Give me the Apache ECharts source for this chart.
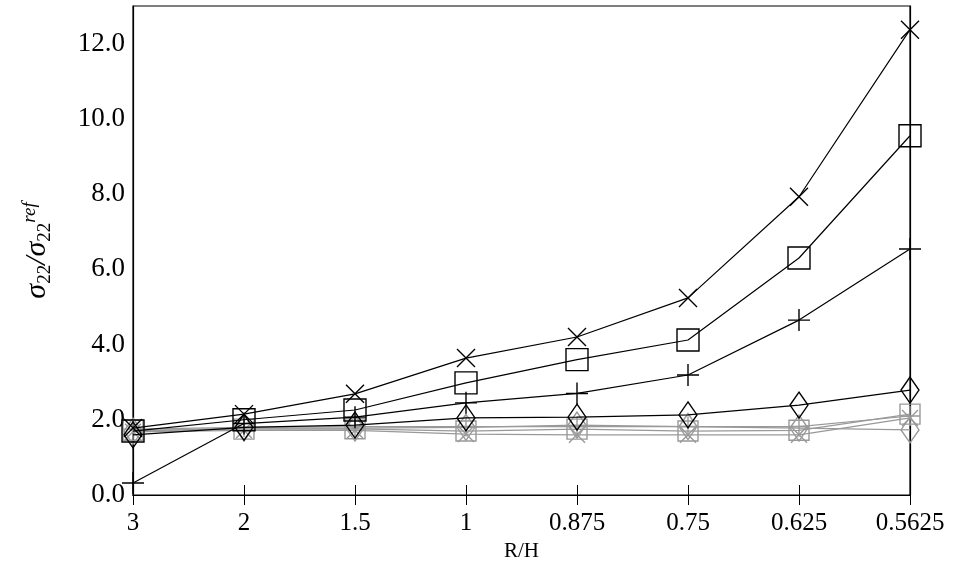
<!DOCTYPE html>
<html>
<head>
<meta charset="utf-8">
<script src="https://cdn.jsdelivr.net/npm/echarts@6/dist/echarts.min.js"></script>
<style>html,body{margin:0;padding:0;background:#fff}#chart{width:953px;height:571px}</style>
</head>
<body>
<div id="chart"></div>
<script>
var categories = ['3', '2', '1.5', '1', '0.875', '0.75', '0.625', '0.5625'];
var yTicks = [0, 2, 4, 6, 8, 10, 12];
// black series
var crossBlack = [1.78, 2.15, 2.69, 3.64, 4.2, 5.24, 7.93, 12.37];
var squareBlack = [1.7, 2.0, 2.26, 2.98, 3.6, 4.12, 6.3, 9.55];
var plusBlack = [0.32, 1.9, 2.07, 2.45, 2.7, 3.19, 4.65, 6.54];
var diamondBlack = [1.6, 1.8, 1.86, 2.05, 2.07, 2.13, 2.39, 2.79];
// gray series
var squareGray = [1.72, 1.75, 1.76, 1.7, 1.75, 1.7, 1.72, 2.15];
var crossGray = [1.68, 1.72, 1.72, 1.62, 1.6, 1.6, 1.6, 2.05];
var diamondGray = [1.7, 1.78, 1.78, 1.8, 1.86, 1.82, 1.78, 1.73];
var plusGray = [1.75, 1.8, 1.82, 1.82, 1.82, 1.82, 1.82, 2.1];

(function () {
    var myChart = echarts.init(document.getElementById('chart'));
    var FONT = 'Liberation Serif';
    var CROSS = 'path://M0,0L10,10M10,0L0,10';
    var PLUS = 'path://M5,0L5,10M0,5L10,5';

    function mk(data, symbol, size, color) {
        return {
            type: 'line',
            data: data,
            symbol: symbol,
            symbolSize: size,
            showAllSymbol: true,
            lineStyle: { color: color, width: 1.2 },
            itemStyle: { color: 'none', borderColor: color, borderWidth: 1.4 },
            emphasis: { disabled: true },
            z: color === '#000' ? 3 : 2
        };
    }
    var tick = { inside: true, length: 10, lineStyle: { color: '#000' } };

    var option = {
        animation: false,
        grid: { left: 133, right: 43, top: 6, bottom: 76, show: true, borderColor: '#000', borderWidth: 1.2 },
        xAxis: [{
            type: 'category',
            data: categories,
            boundaryGap: false,
            name: 'R/H',
            nameLocation: 'middle',
            nameGap: 46,
            nameTextStyle: { fontFamily: FONT, fontSize: 21, color: '#000' },
            axisLine: { lineStyle: { color: '#000', width: 1.2 } },
            axisTick: tick,
            axisLabel: { fontFamily: FONT, fontSize: 25, color: '#000', margin: 16 },
            splitLine: { show: false }
        }, {
            type: 'category',
            data: categories,
            boundaryGap: false,
            position: 'top',
            axisLine: { lineStyle: { color: '#000', width: 1.2 } },
            axisTick: tick,
            axisLabel: { show: false }
        }],
        yAxis: [{
            type: 'value',
            min: 0,
            max: 13,
            interval: 2,
            name: '{s|σ}{b|22}{s|/σ}{b|22}{t|ref}',
            nameLocation: 'middle',
            nameGap: 78,
            nameRotate: 90,
            nameTextStyle: {
                color: '#000',
                rich: {
                    s: { fontFamily: FONT, fontSize: 30, fontStyle: 'italic', color: '#000' },
                    b: { fontFamily: FONT, fontSize: 19, color: '#000', verticalAlign: 'bottom', padding: [14, 0, 0, 0] },
                    t: { fontFamily: FONT, fontSize: 19, fontStyle: 'italic', color: '#000', verticalAlign: 'top', padding: [0, 0, 16, 0] }
                }
            },
            axisLine: { show: true, lineStyle: { color: '#000', width: 1.2 } },
            axisTick: tick,
            axisLabel: {
                fontFamily: FONT, fontSize: 27, color: '#000', margin: 8,
                formatter: function (v) { return yTicks.indexOf(v) >= 0 ? v.toFixed(1) : ''; }
            },
            splitLine: { show: false }
        }, {
            type: 'value',
            min: 0,
            max: 13,
            interval: 2,
            position: 'right',
            axisLine: { show: true, lineStyle: { color: '#000', width: 1.2 } },
            axisTick: tick,
            axisLabel: { show: false },
            splitLine: { show: false }
        }],
        series: [
            mk(squareGray, 'rect', 20, '#999'),
            mk(crossGray, CROSS, 16, '#999'),
            mk(diamondGray, 'diamond', [18, 26], '#999'),
            mk(plusGray, PLUS, 20, '#999'),
            mk(diamondBlack, 'diamond', [18, 26], '#000'),
            mk(plusBlack, PLUS, 22, '#000'),
            mk(squareBlack, 'rect', 22, '#000'),
            mk(crossBlack, CROSS, 18, '#000')
        ]
    };
    myChart.setOption(option);
    window.addEventListener('resize', function () {
        myChart.resize();
    });
})();
</script>
</body>
</html>
